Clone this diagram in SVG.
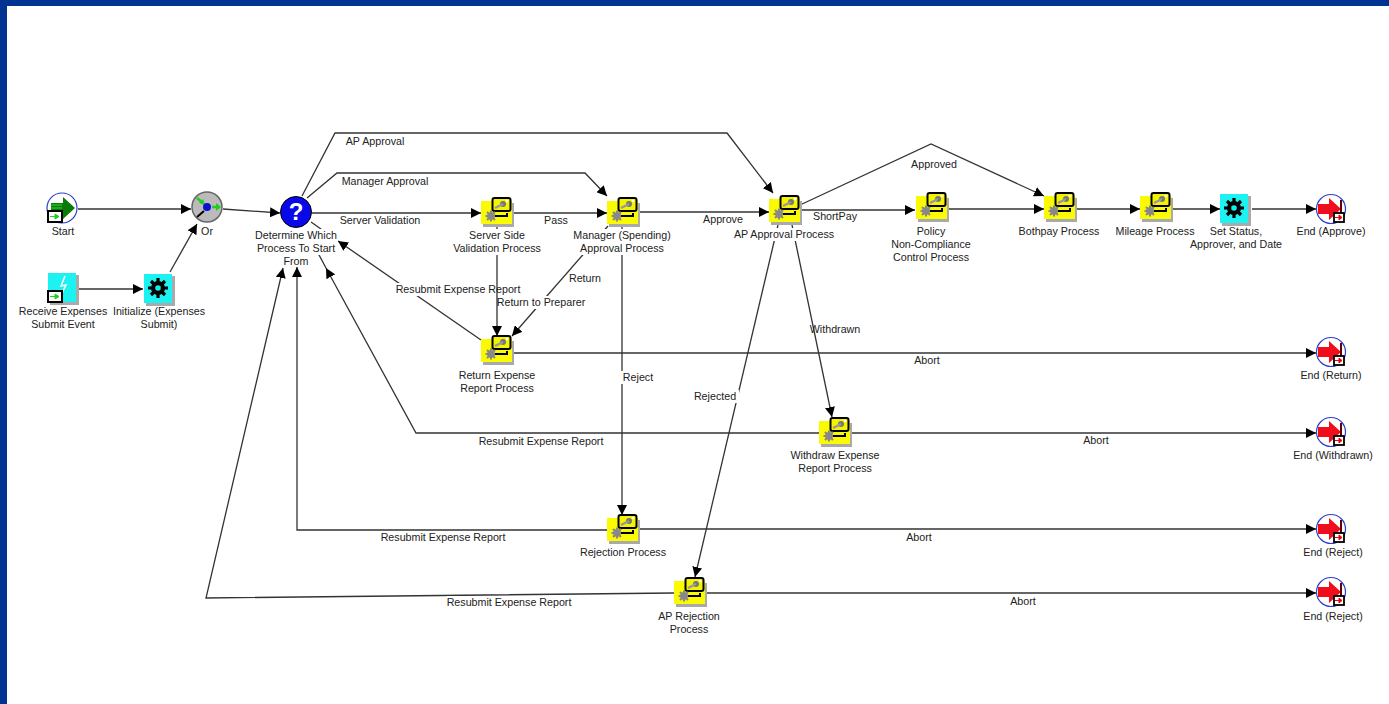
<svg xmlns="http://www.w3.org/2000/svg" width="1389" height="704" viewBox="0 0 1389 704">
<style>
text{font-family:"Liberation Sans",Arial,sans-serif;font-size:10.7px;fill:#222;text-anchor:middle}
.e{fill:none;stroke:#333;stroke-width:1.300;marker-end:url(#a)}
.s{fill:none;stroke:#333;stroke-width:1.300}
.b{fill:#fff}
</style>
<defs>
<marker id="a" markerUnits="userSpaceOnUse" markerWidth="11" markerHeight="10" refX="10" refY="5" orient="auto"><path d="M0 0L10 5L0 10Z" fill="#000"/></marker>
<symbol id="gear" overflow="visible"><g fill="#000"><circle r="7"/><g stroke="#000" stroke-width="3.200"><path d="M-10 0H10M0-10V10M-7-7L7 7M-7 7L7-7"/></g></g><circle r="2.800" fill="#1ee"/></symbol>
<g id="proc">
<rect x="2" y="2" width="31" height="24" fill="#aaa"/>
<rect width="31" height="23" fill="#fafa00"/>
<rect x="11.500" y="-3" width="18" height="13" rx="2" fill="#f4f400" stroke="#000" stroke-width="2"/>
<circle cx="22" cy="3" r="3" fill="#777"/><circle cx="26" cy="0" r="1.300" fill="#fff"/><path d="M14 7L22 3" stroke="#999" stroke-width="2.500"/>
<g fill="#888" stroke="#888"><circle cx="10" cy="15" r="3.500"/><path d="M4.500 15H15.500M10 9.500V20.500M6 11L14 19M6 19L14 11" stroke-width="2"/></g>
<path d="M14 15H26V12" fill="none" stroke="#000" stroke-width="2"/>
</g>
<g id="cyan"><rect x="2" y="2" width="29" height="30" fill="#aaa"/><rect width="28" height="29" fill="#1cf2f2"/></g>
<g id="end">
<circle r="14.500" fill="#fff" stroke="#2b3fd0" stroke-width="1.200"/>
<path d="M-13-5H-2V-11L10 0L-2 11V5H-13Z" fill="#f00d1c"/><path d="M10-9V8" stroke="#600" stroke-width="2"/>
<rect x="3" y="4" width="10" height="9" fill="#fff" stroke="#000" stroke-width="1.800"/><path d="M4 8.500H8V6L11 8.500L8 11V8.500" fill="#e00" stroke="#e00"/>
</g>
</defs>
<rect width="1389" height="704" fill="#fff"/>
<path d="M0 0H1389V6H7V704H0Z" fill="#003392"/>
<g id="connectors">
<path class="e" d="M78 209H191"/>
<path class="e" d="M223 209L280 213"/>
<path class="e" d="M79 289H143"/>
<path class="e" d="M170 272L197 224"/>
<path class="e" d="M312 213H481"/>
<path class="e" d="M512 213H607"/>
<path class="e" d="M638 212H769"/>
<path class="e" d="M800 210H915"/>
<path class="e" d="M947 209H1044"/>
<path class="e" d="M1075 209H1140"/>
<path class="e" d="M1171 209H1220"/>
<path class="e" d="M1252 209H1316"/>
<path class="e" d="M302 196L335 133H727L773 193"/>
<path class="e" d="M307 198L337 173H585L607 196"/>
<path class="e" d="M800 205L931 144L1044 196"/>
<path class="e" d="M608 226L512 336"/>
<path class="e" d="M622 225V515"/>
<path class="e" d="M792 225L832 417"/>
<path class="e" d="M778 225L695 577"/>
<path class="e" d="M481 340L338 241"/>
<path class="s" d="M338 241L311 222"/>
<path class="e" d="M512 353H1316"/>
<path class="e" d="M850 433H1316"/>
<path class="e" d="M819 433H416L326 268"/>
<path class="s" d="M326 268L318 253"/>
<path class="e" d="M607 530H297V267"/>
<path class="e" d="M638 529H1316"/>
<path class="e" d="M674 593L206 598L283 268"/>
<path class="e" d="M705 593H1316"/>
<rect class="b" x="396" y="283" width="124" height="13"/>
<rect class="b" x="498" y="296" width="88" height="13"/>
<rect class="b" x="621" y="371" width="34" height="13"/>
<rect class="b" x="693" y="390" width="46" height="13"/>
<rect class="b" x="447" y="596" width="125" height="13"/>
<rect class="b" x="254" y="229" width="84" height="26"/>
<rect class="b" x="281" y="255" width="30" height="12"/>
<rect class="b" x="451" y="229" width="90" height="26"/>
<rect class="b" x="574" y="229" width="97" height="26"/>
<rect class="b" x="733" y="228" width="103" height="13"/>
<path class="e" d="M497 225V336"/>
<rect class="b" x="451" y="229" width="90" height="26"/>
</g>
<g id="edge-labels">
<text x="375" y="145">AP Approval</text>
<text x="385" y="185">Manager Approval</text>
<text x="380" y="224">Server Validation</text>
<text x="556" y="224">Pass</text>
<text x="723" y="223">Approve</text>
<text x="835" y="220">ShortPay</text>
<text x="934" y="168">Approved</text>
<text x="458" y="293">Resubmit Expense Report</text>
<text x="585" y="282">Return</text>
<text x="541" y="306">Return to Preparer</text>
<text x="835" y="333">Withdrawn</text>
<text x="927" y="364">Abort</text>
<text x="638" y="381">Reject</text>
<text x="715" y="400">Rejected</text>
<text x="541" y="445">Resubmit Expense Report</text>
<text x="1096" y="444">Abort</text>
<text x="443" y="541">Resubmit Expense Report</text>
<text x="919" y="541">Abort</text>
<text x="509" y="606">Resubmit Expense Report</text>
<text x="1023" y="605">Abort</text>
</g>
<g id="start"><circle cx="62" cy="208" r="15" fill="#fff" stroke="#2b3fd0" stroke-width="1.200"/><path d="M51 203H63V197L75 208L63 219V214H51Z" fill="#0a7a0a"/><path d="M51 205H62M51 208H62" stroke="#3d3" stroke-width="1"/><rect x="48" y="211" width="14" height="11" fill="#fff" stroke="#000" stroke-width="2"/><path d="M50 216.500H55V214L59 216.500L55 219V216.500" fill="#2c2" stroke="#2c2"/><text x="63" y="235">Start</text></g>
<g id="receive"><use href="#cyan" x="48" y="273"/><path d="M65 276L61 286L66 285L62 293" fill="none" stroke="#fff" stroke-width="1.500"/><rect x="48" y="291" width="14" height="11" fill="#fff" stroke="#000" stroke-width="2"/><path d="M50 296.500H55V294L59 296.500L55 299V296.500" fill="#2c2" stroke="#2c2"/><text x="63" y="315">Receive Expenses</text><text x="63" y="328">Submit Event</text></g>
<g id="initialize"><use href="#cyan" x="144" y="274"/><use href="#gear" x="158" y="288"/><text x="159" y="315">Initialize (Expenses</text><text x="159" y="328">Submit)</text></g>
<g id="or"><circle cx="207" cy="207" r="15" fill="#bbb" stroke="#666" stroke-width="1.500"/><path d="M197 198L203 203M212 207H217" stroke="#2c2" stroke-width="2.500"/><path d="M205 205L199 203L203 199ZM216 203L221 207L216 211Z" fill="#2c2"/><path d="M197 217L204 211" stroke="#000" stroke-width="2"/><circle cx="207" cy="207" r="4" fill="#0a10d0"/><text x="207" y="235">Or</text></g>
<g id="determine"><circle cx="296" cy="212" r="15.500" fill="#0808e8" stroke="#000" stroke-width="1"/><text x="296" y="220" style="font-size:24px;font-weight:bold;fill:#fff">?</text><text x="296" y="239">Determine Which</text><text x="296" y="252">Process To Start</text><text x="296" y="265">From</text></g>
<g id="server"><use href="#proc" x="481" y="201"/><text x="497" y="252">Validation Process</text><text x="497" y="239">Server Side</text></g>
<g id="manager"><use href="#proc" x="607" y="201"/><text x="622" y="239">Manager (Spending)</text><text x="622" y="252">Approval Process</text></g>
<g id="ap"><use href="#proc" x="769" y="199"/><text x="784" y="238">AP Approval Process</text></g>
<g id="policy"><use href="#proc" x="916" y="196"/><text x="931" y="235">Policy</text><text x="931" y="248">Non-Compliance</text><text x="931" y="261">Control Process</text></g>
<g id="bothpay"><use href="#proc" x="1044" y="196"/><text x="1059" y="235">Bothpay Process</text></g>
<g id="mileage"><use href="#proc" x="1140" y="196"/><text x="1155" y="235">Mileage Process</text></g>
<g id="set"><use href="#cyan" x="1220" y="194"/><use href="#gear" x="1234" y="208"/><text x="1236" y="235">Set Status,</text><text x="1236" y="248">Approver, and Date</text></g>
<g id="end-approve"><use href="#end" x="1331" y="209"/><text x="1331" y="235">End (Approve)</text></g>
<g id="return"><use href="#proc" x="481" y="339"/><text x="497" y="379">Return Expense</text><text x="497" y="392">Report Process</text></g>
<g id="end-return"><use href="#end" x="1331" y="352"/><text x="1331" y="379">End (Return)</text></g>
<g id="withdraw"><use href="#proc" x="819" y="421"/><text x="835" y="459">Withdraw Expense</text><text x="835" y="472">Report Process</text></g>
<g id="end-withdrawn"><use href="#end" x="1331" y="432"/><text x="1333" y="459">End (Withdrawn)</text></g>
<g id="rejection"><use href="#proc" x="607" y="518"/><text x="623" y="556">Rejection Process</text></g>
<g id="end-reject"><use href="#end" x="1331" y="529"/><text x="1333" y="556">End (Reject)</text></g>
<g id="ap-rejection"><use href="#proc" x="674" y="581"/><text x="689" y="620">AP Rejection</text><text x="689" y="633">Process</text></g>
<g id="end-reject2"><use href="#end" x="1331" y="592"/><text x="1333" y="620">End (Reject)</text></g>
</svg>
